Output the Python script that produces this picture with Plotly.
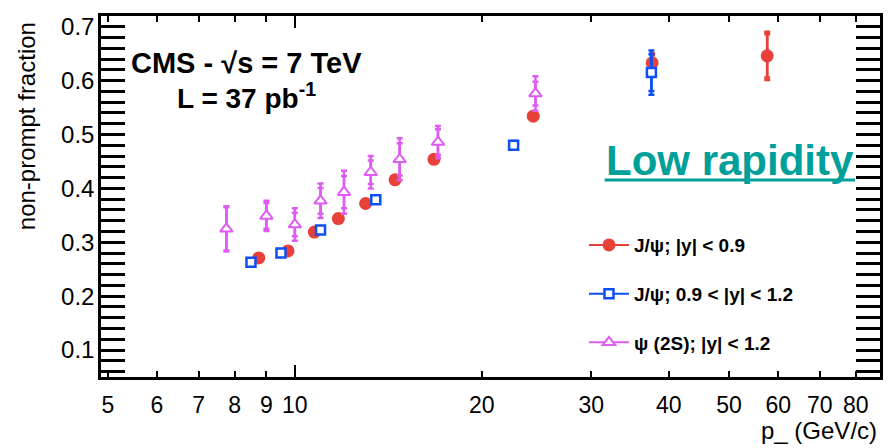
import plotly.graph_objects as go

# ---------------- data ----------------
red_x = [8.75, 9.75, 10.75, 11.75, 13.0, 14.5, 16.75, 24.2, 37.6, 57.6]
red_y = [0.271, 0.284, 0.319, 0.344, 0.372, 0.416, 0.454, 0.534, 0.633, 0.646]
red_err = [0.005, 0.005, 0.005, 0.005, 0.005, 0.006, 0.007, 0.008, 0.018, 0.045]
red_stat = [0.004, 0.004, 0.004, 0.004, 0.004, 0.005, 0.005, 0.006, 0.014, 0.040]

blue_x = [8.5, 9.5, 11.0, 13.5, 22.5, 37.5]
blue_y = [0.263, 0.280, 0.323, 0.379, 0.480, 0.615]
blue_err = [0.005, 0.005, 0.005, 0.006, 0.008, 0.041]
blue_stat = [0.004, 0.004, 0.004, 0.005, 0.006, 0.034]

mag_x = [7.76, 9.0, 10.0, 11.0, 12.0, 13.25, 14.75, 17.0, 24.4]
mag_y = [0.325, 0.349, 0.333, 0.377, 0.393, 0.430, 0.454, 0.486, 0.576]
mag_err = [0.042, 0.028, 0.030, 0.032, 0.040, 0.030, 0.039, 0.030, 0.032]
mag_stat = [0.040, 0.024, 0.022, 0.024, 0.030, 0.022, 0.030, 0.024, 0.022]

x_ticks = [5, 6, 7, 8, 9, 10, 20, 30, 40, 50, 60, 70, 80]
y_ticks = [0.1, 0.2, 0.3, 0.4, 0.5, 0.6, 0.7]

names = ["<b>J/ψ; |y| < 0.9</b>", "<b>J/ψ; 0.9 < |y| < 1.2</b>", "<b>ψ (2S); |y| < 1.2</b>"]

RED = "#e8413a"
BLUE = "#0d4ff5"
MAG = "#df5cf3"
TEAL = "#00a09a"
FONT = "Liberation Sans, Arial, Helvetica, sans-serif"

fig = go.Figure()

series = [
    (red_x, red_y, red_err, red_stat, RED, dict(symbol="circle", size=13, color=RED)),
    (blue_x, blue_y, blue_err, blue_stat, BLUE,
     dict(symbol="square", size=9, color="white", line=dict(width=2.5, color=BLUE))),
    (mag_x, mag_y, mag_err, mag_stat, MAG,
     dict(symbol="triangle-up", size=11, color="white", line=dict(width=2, color=MAG))),
]

for i, (xs, ys, et, es, col, mk) in enumerate(series):
    # total error
    fig.add_trace(go.Scatter(
        x=xs, y=ys, mode="markers", showlegend=False,
        marker=dict(size=1, color="rgba(0,0,0,0)"),
        error_y=dict(type="data", array=et, color=col, thickness=2.5, width=3),
    ))
    # stat error (inner caps)
    fig.add_trace(go.Scatter(
        x=xs, y=ys, mode="markers", showlegend=False,
        marker=dict(size=1, color="rgba(0,0,0,0)"),
        error_y=dict(type="data", array=es, color=col, thickness=2.5, width=3),
    ))
    fig.add_trace(go.Scatter(x=xs, y=ys, mode="markers", showlegend=False, marker=mk))
    # legend entry
    fig.add_trace(go.Scatter(
        x=[None], y=[None], mode="lines+markers", name=names[i],
        legendgroup=f"g{i}", line=dict(color=col, width=2), marker=mk,
    ))

# invisible trace for secondary x-axis (long tick at 10)
fig.add_trace(go.Scatter(x=[10], y=[0.05], xaxis="x2", mode="markers",
                         marker=dict(size=1, color="rgba(0,0,0,0)"), showlegend=False,
                         hoverinfo="skip"))

fig.update_layout(
    width=895, height=448,
    margin=dict(l=101, r=13, t=16, b=71),
    paper_bgcolor="white", plot_bgcolor="white",
    font=dict(family=FONT, color="black", size=22),
    xaxis=dict(
        type="log", range=[0.688, 1.942],
        tickmode="array", tickvals=x_ticks, ticktext=[str(v) for v in x_ticks],
        ticks="inside", ticklen=6, tickwidth=2, tickcolor="black",
        showline=True, linewidth=2.5, linecolor="black", mirror="allticks",
        showgrid=False, zeroline=False, ticklabelstandoff=6,
        tickfont=dict(size=23),
    ),
    xaxis2=dict(
        type="log", range=[0.688, 1.942], overlaying="x", anchor="y",
        tickmode="array", tickvals=[10], showticklabels=False,
        ticks="inside", ticklen=12, tickwidth=2, tickcolor="black",
        showline=False, mirror="allticks", showgrid=False, zeroline=False,
    ),
    yaxis=dict(
        range=[0.05, 0.72],
        tickmode="array", tickvals=y_ticks, ticktext=[f"{v:.1f}" for v in y_ticks],
        ticks="inside", ticklen=24, tickwidth=2.5, tickcolor="black",
        minor=dict(dtick=0.02, tick0=0.0, ticks="inside", ticklen=12, tickwidth=2.5,
                   tickcolor="black", showgrid=False),
        showline=True, linewidth=2.5, linecolor="black", mirror="allticks",
        showgrid=False, zeroline=False, ticklabelstandoff=-1,
        tickfont=dict(size=24),
    ),
    legend=dict(
        x=0.620, y=0.418, xanchor="left", yanchor="top",
        bgcolor="rgba(0,0,0,0)", font=dict(size=19, family=FONT),
        tracegroupgap=21, itemwidth=40,
    ),
    showlegend=True,
)

fig.add_annotation(text="<b>CMS - √s = 7 TeV</b>", xref="paper", yref="paper",
                   x=(247 - 101) / 781, y=(377 - 63) / 361, showarrow=False,
                   font=dict(size=29, family=FONT), xanchor="center", yanchor="middle")
fig.add_annotation(text="<b>L = 37 pb<sup>-1</sup></b>", xref="paper", yref="paper",
                   x=(247 - 101) / 781, y=(377 - 96) / 361, showarrow=False,
                   font=dict(size=28, family=FONT), xanchor="center", yanchor="middle")
fig.add_annotation(text="<b>Low rapidity</b>", xref="paper", yref="paper",
                   x=(858 - 101) / 781, y=(377 - 160) / 361, showarrow=False,
                   font=dict(size=42, family=FONT, color=TEAL), xanchor="right", yanchor="middle")
fig.add_shape(type="line", xref="paper", yref="paper",
              x0=(606 - 101) / 781, x1=(857 - 101) / 781,
              y0=(377 - 180) / 361, y1=(377 - 180) / 361,
              line=dict(color=TEAL, width=3))
fig.add_annotation(text="non-prompt fraction", xref="paper", yref="paper",
                   x=(27 - 101) / 781, y=(377 - 126) / 361, showarrow=False, textangle=-90,
                   font=dict(size=24, family=FONT), xanchor="center", yanchor="middle")
fig.add_annotation(text="p_ (GeV/c)", xref="paper", yref="paper",
                   x=(881 - 101) / 781, y=(377 - 430) / 361, showarrow=False,
                   font=dict(size=24, family=FONT), xanchor="right", yanchor="middle")

fig.write_html("out.html")
